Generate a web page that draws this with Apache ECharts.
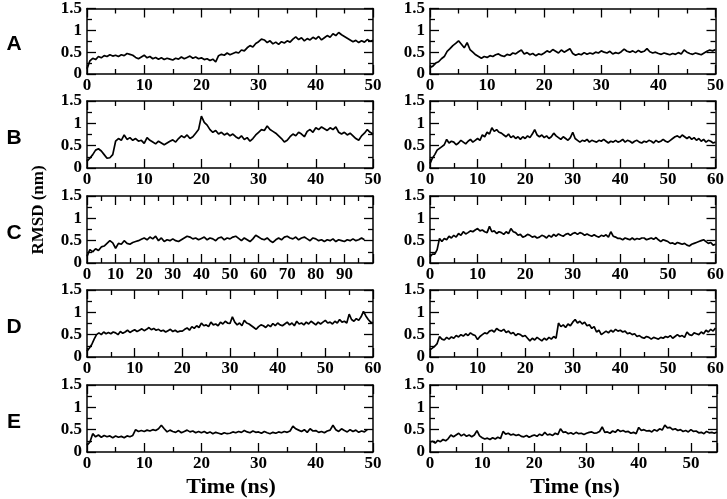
<!DOCTYPE html>
<html>
<head>
<meta charset="utf-8">
<script src="https://cdn.jsdelivr.net/npm/echarts@6/dist/echarts.min.js"></script>
<style>
  html, body { margin: 0; padding: 0; background: #fff; }
  #main { width: 727px; height: 499px; }
</style>
</head>
<body>
<div id="main"></div>
<script>
// RMSD (nm), one value every `step` ns
const rmsdA1 = [
  0.12, 0.30, 0.36, 0.33, 0.40, 0.37, 0.42, 0.40, 0.44, 0.41,
  0.43, 0.40, 0.44, 0.42, 0.47, 0.45, 0.43, 0.38, 0.35, 0.39,
  0.43, 0.37, 0.40, 0.35, 0.38, 0.34, 0.37, 0.33, 0.36, 0.34,
  0.32, 0.36, 0.34, 0.39, 0.35, 0.38, 0.41, 0.36, 0.39, 0.35,
  0.37, 0.33, 0.35, 0.31, 0.34, 0.28, 0.42, 0.45, 0.43, 0.48,
  0.44, 0.47, 0.50, 0.48, 0.55, 0.53, 0.60, 0.65, 0.62, 0.70,
  0.74, 0.80, 0.78, 0.72, 0.76, 0.69, 0.73, 0.68, 0.74, 0.71,
  0.76, 0.73, 0.80, 0.85, 0.79, 0.83, 0.76, 0.81, 0.78, 0.84,
  0.80, 0.86, 0.78, 0.83, 0.88, 0.84, 0.92, 0.88, 0.95, 0.90,
  0.86, 0.82, 0.78, 0.74, 0.77, 0.72, 0.76, 0.73, 0.79, 0.75, 0.77
];
const rmsdA2 = [
  0.15, 0.18, 0.25, 0.28, 0.35, 0.40, 0.52, 0.58, 0.65, 0.70,
  0.76, 0.68, 0.60, 0.72, 0.56, 0.50, 0.44, 0.40, 0.36, 0.40,
  0.38, 0.42, 0.40, 0.44, 0.46, 0.42, 0.40, 0.45, 0.43, 0.48,
  0.46, 0.51, 0.55, 0.46, 0.49, 0.44, 0.47, 0.42, 0.46, 0.44,
  0.48, 0.53, 0.50, 0.56, 0.52, 0.48, 0.55, 0.50, 0.54, 0.58,
  0.47, 0.43, 0.46, 0.44, 0.49, 0.45, 0.48, 0.46, 0.50, 0.48,
  0.53, 0.50, 0.48, 0.52, 0.46, 0.49, 0.47, 0.51, 0.57, 0.52,
  0.50, 0.53, 0.49, 0.54, 0.50, 0.52, 0.58, 0.51, 0.48, 0.50,
  0.47, 0.45, 0.48, 0.46, 0.44, 0.47, 0.45, 0.49, 0.46, 0.55,
  0.50, 0.47, 0.45, 0.48, 0.46, 0.44, 0.48, 0.52, 0.55, 0.53, 0.56
];
const rmsdB1 = [
  0.15, 0.22, 0.30, 0.40, 0.43, 0.38, 0.30, 0.22, 0.23, 0.30,
  0.60, 0.66, 0.62, 0.74, 0.64, 0.68, 0.62, 0.66, 0.60, 0.62,
  0.55, 0.68, 0.62, 0.58, 0.54, 0.60, 0.56, 0.52, 0.56, 0.60,
  0.63, 0.58, 0.66, 0.72, 0.68, 0.74, 0.66, 0.70, 0.78, 0.86,
  1.16, 1.02, 0.96, 0.86, 0.80, 0.84, 0.76, 0.80, 0.74, 0.78,
  0.72, 0.76, 0.70, 0.66, 0.72, 0.64, 0.68, 0.60, 0.66, 0.74,
  0.80, 0.86, 0.84, 0.94, 0.86, 0.82, 0.78, 0.72, 0.66, 0.58,
  0.62, 0.70, 0.76, 0.72, 0.80, 0.76, 0.70, 0.82, 0.86, 0.80,
  0.90, 0.86, 0.92, 0.88, 0.84, 0.90, 0.86, 0.92, 0.80, 0.76,
  0.80, 0.74, 0.78, 0.72, 0.66, 0.62, 0.72, 0.78, 0.86, 0.80, 0.76
];
const rmsdB2 = [
  0.10, 0.22, 0.30, 0.40, 0.44, 0.48, 0.52, 0.64, 0.56, 0.60,
  0.58, 0.52, 0.56, 0.62, 0.58, 0.54, 0.60, 0.64, 0.58, 0.62,
  0.66, 0.62, 0.74, 0.70, 0.80, 0.76, 0.90, 0.82, 0.86, 0.80,
  0.78, 0.74, 0.70, 0.76, 0.68, 0.72, 0.66, 0.70, 0.64, 0.70,
  0.66, 0.72, 0.68, 0.76, 0.86, 0.74, 0.70, 0.74, 0.68, 0.72,
  0.66, 0.70, 0.78, 0.72, 0.68, 0.64, 0.70, 0.66, 0.62, 0.68,
  0.80, 0.66, 0.62, 0.58, 0.62, 0.60, 0.64, 0.58, 0.62, 0.60,
  0.58, 0.62, 0.60, 0.64, 0.60, 0.56, 0.60, 0.58, 0.62, 0.58,
  0.60, 0.64, 0.58, 0.62, 0.60, 0.56, 0.60, 0.62, 0.58, 0.56,
  0.60, 0.58, 0.62, 0.60, 0.56, 0.62, 0.58, 0.60, 0.64, 0.60,
  0.58, 0.62, 0.66, 0.70, 0.72, 0.68, 0.74, 0.70, 0.66, 0.70,
  0.64, 0.68, 0.62, 0.66, 0.60, 0.64, 0.58, 0.62, 0.60, 0.56, 0.58
];
const rmsdC1 = [
  0.15, 0.30, 0.25, 0.32, 0.28, 0.36, 0.38, 0.44, 0.50, 0.45,
  0.33, 0.44, 0.42, 0.50, 0.44, 0.42, 0.46, 0.48, 0.50, 0.53,
  0.56, 0.52, 0.58, 0.54, 0.60, 0.50, 0.56, 0.48, 0.52, 0.50,
  0.54, 0.50, 0.48, 0.52, 0.56, 0.60, 0.58, 0.54, 0.56, 0.52,
  0.55, 0.58, 0.52, 0.56, 0.54, 0.50, 0.56, 0.58, 0.52, 0.56,
  0.54, 0.58, 0.60, 0.55, 0.50, 0.56, 0.52, 0.48, 0.54, 0.62,
  0.58, 0.54, 0.52, 0.56, 0.50, 0.46, 0.52, 0.56, 0.52, 0.58,
  0.60, 0.56, 0.54, 0.58, 0.52, 0.56, 0.58, 0.54, 0.50, 0.56,
  0.54, 0.50, 0.52, 0.48, 0.52, 0.50, 0.54, 0.48, 0.52, 0.50,
  0.48, 0.52, 0.50, 0.54, 0.50, 0.52, 0.56, 0.52
];
const rmsdC2 = [
  0.14, 0.20, 0.20, 0.30, 0.55, 0.48, 0.55, 0.52, 0.60, 0.56,
  0.62, 0.58, 0.66, 0.62, 0.70, 0.65, 0.68, 0.72, 0.70, 0.74,
  0.77, 0.72, 0.74, 0.70, 0.68, 0.82, 0.70, 0.72, 0.66, 0.70,
  0.68, 0.64, 0.70, 0.66, 0.77, 0.70, 0.68, 0.62, 0.64, 0.58,
  0.60, 0.64, 0.62, 0.58, 0.60, 0.56, 0.58, 0.62, 0.60, 0.56,
  0.62, 0.58, 0.64, 0.60, 0.65, 0.62, 0.60, 0.64, 0.66, 0.62,
  0.66, 0.68, 0.64, 0.68, 0.66, 0.62, 0.65, 0.62, 0.60, 0.63,
  0.60, 0.58, 0.62, 0.60, 0.63, 0.58, 0.70, 0.60, 0.58, 0.55,
  0.55, 0.52, 0.56, 0.54, 0.52, 0.56, 0.52, 0.55, 0.53, 0.56,
  0.56, 0.52, 0.54, 0.56, 0.53, 0.57, 0.52, 0.48, 0.52, 0.50,
  0.48, 0.44, 0.45, 0.42, 0.46, 0.44, 0.42, 0.44, 0.40, 0.38,
  0.42, 0.44, 0.46, 0.48, 0.50, 0.52, 0.48, 0.44, 0.46, 0.40, 0.42
];
const rmsdD1 = [
  0.13, 0.20, 0.28, 0.40, 0.50, 0.54, 0.50, 0.56, 0.52, 0.55,
  0.52, 0.56, 0.54, 0.50, 0.57, 0.53, 0.56, 0.60, 0.55, 0.58,
  0.61, 0.57, 0.60, 0.63, 0.59, 0.62, 0.66, 0.61, 0.64, 0.60,
  0.62, 0.58, 0.60, 0.56, 0.59, 0.62, 0.57, 0.60, 0.56, 0.58,
  0.58, 0.62, 0.65, 0.60, 0.68, 0.64, 0.70, 0.66, 0.76, 0.70,
  0.72, 0.68, 0.78, 0.72, 0.74, 0.70, 0.78, 0.74, 0.80, 0.76,
  0.75, 0.90, 0.78, 0.72, 0.76, 0.70, 0.82, 0.76, 0.74, 0.70,
  0.66, 0.62, 0.68, 0.72, 0.70, 0.66, 0.72, 0.68, 0.75, 0.70,
  0.76, 0.72, 0.70, 0.74, 0.78, 0.72, 0.76, 0.70, 0.80, 0.74,
  0.76, 0.72, 0.78, 0.74, 0.80, 0.76, 0.72, 0.78, 0.74, 0.78,
  0.82, 0.76, 0.78, 0.74, 0.80, 0.76, 0.84, 0.78, 0.80, 0.76,
  0.96, 0.84, 0.80, 0.86, 0.82, 0.90, 1.02, 0.92, 0.84, 0.78, 0.76
];
const rmsdD2 = [
  0.16, 0.20, 0.24, 0.30, 0.46, 0.40, 0.38, 0.44, 0.40, 0.45,
  0.42, 0.48, 0.45, 0.50, 0.47, 0.52, 0.48, 0.54, 0.50, 0.48,
  0.39, 0.46, 0.50, 0.54, 0.52, 0.58, 0.60, 0.56, 0.64, 0.60,
  0.58, 0.62, 0.55, 0.58, 0.52, 0.55, 0.48, 0.52, 0.50, 0.46,
  0.48, 0.42, 0.36, 0.42, 0.38, 0.44, 0.40, 0.36, 0.42, 0.38,
  0.44, 0.40, 0.46, 0.42, 0.76, 0.68, 0.72, 0.66, 0.74, 0.70,
  0.78, 0.84, 0.76, 0.80, 0.74, 0.78, 0.70, 0.72, 0.64, 0.68,
  0.56, 0.60, 0.50, 0.54, 0.58, 0.54, 0.60, 0.56, 0.62, 0.58,
  0.60, 0.56, 0.58, 0.52, 0.54, 0.50, 0.52, 0.46, 0.48, 0.44,
  0.42, 0.46, 0.44, 0.40, 0.44, 0.42, 0.40, 0.44, 0.42, 0.46,
  0.44, 0.48, 0.42, 0.46, 0.50, 0.46, 0.48, 0.44, 0.56, 0.50,
  0.48, 0.54, 0.52, 0.50, 0.56, 0.52, 0.60, 0.56, 0.62, 0.58, 0.65
];
const rmsdE1 = [
  0.15, 0.22, 0.41, 0.34, 0.38, 0.33, 0.37, 0.34, 0.36, 0.32,
  0.36, 0.33, 0.35, 0.32, 0.36, 0.34, 0.37, 0.50, 0.46, 0.48,
  0.46, 0.49, 0.47, 0.50, 0.48, 0.52, 0.60, 0.52, 0.45, 0.49,
  0.46, 0.44, 0.48, 0.43, 0.46, 0.49, 0.45, 0.47, 0.43, 0.46,
  0.43, 0.46, 0.42, 0.45, 0.41, 0.44, 0.42, 0.40, 0.43, 0.41,
  0.42, 0.45, 0.43, 0.46, 0.44, 0.48, 0.45, 0.43, 0.47, 0.44,
  0.45, 0.42, 0.46, 0.43, 0.41, 0.44, 0.42, 0.45, 0.43, 0.46,
  0.44, 0.47, 0.58, 0.52, 0.49, 0.46, 0.50, 0.44, 0.52, 0.47,
  0.48, 0.44, 0.46, 0.43, 0.47, 0.49, 0.60, 0.50, 0.46, 0.52,
  0.48, 0.45, 0.50, 0.46, 0.49, 0.44, 0.47, 0.45, 0.50
];
const rmsdE2 = [
  0.22, 0.24, 0.20, 0.26, 0.23, 0.28, 0.25, 0.30, 0.38, 0.34,
  0.38, 0.42, 0.36, 0.40, 0.35, 0.38, 0.34, 0.38, 0.48, 0.36,
  0.32, 0.29, 0.31, 0.28, 0.32, 0.29, 0.33, 0.30, 0.46, 0.40,
  0.42, 0.38, 0.40, 0.37, 0.39, 0.35, 0.34, 0.37, 0.33, 0.36,
  0.38, 0.35, 0.40, 0.37, 0.44, 0.38, 0.40, 0.37, 0.42, 0.39,
  0.52, 0.44, 0.45, 0.41, 0.43, 0.40, 0.44, 0.41, 0.42, 0.39,
  0.42, 0.44, 0.45, 0.42, 0.43, 0.46, 0.56, 0.44, 0.45, 0.42,
  0.47, 0.44, 0.50, 0.46, 0.48, 0.45, 0.46, 0.42, 0.44, 0.41,
  0.55, 0.48, 0.50, 0.47, 0.48, 0.45, 0.50, 0.47, 0.52, 0.49,
  0.60, 0.54, 0.55, 0.50, 0.52, 0.48, 0.50, 0.46, 0.48, 0.45,
  0.50, 0.46, 0.47, 0.43, 0.44, 0.41, 0.46, 0.43, 0.44, 0.42, 0.45
];

const rowLetters = ['A', 'B', 'C', 'D', 'E'];
const yTicks = { min: 0, max: 1.5, interval: 0.5 };
// [data, step(ns), x max, last x label] for left and right columns, row by row
const panels = [
  [rmsdA1, 0.5, 50, 50], [rmsdA2, 0.5, 50, 50],
  [rmsdB1, 0.5, 50, 50], [rmsdB2, 0.5, 60, 60],
  [rmsdC1, 1, 100, 90],  [rmsdC2, 0.5, 60, 60],
  [rmsdD1, 0.5, 60, 60], [rmsdD2, 0.5, 60, 60],
  [rmsdE1, 0.5, 50, 50], [rmsdE2, 0.5, 55, 50]
];

const rowTop = [7, 101, 196, 290, 385];
const serif = '"Liberation Serif", "DejaVu Serif", serif';
const black = '#000';

var myChart = echarts.init(document.getElementById('main'));

let grids = [], xAxes = [], yAxes = [], series = [];

panels.forEach(function (p, i) {
    let row = Math.floor(i / 2), col = i % 2;
    let data = p[0], step = p[1], xMax = p[2], lastLabel = p[3];
    grids.push({
        left: col ? 430 : 87,
        width: col ? 287 : 286,
        top: rowTop[row],
        height: 67
    });
    let line = { onZero: false, lineStyle: { color: black, width: 1.5 } };
    let tick = { inside: true, length: 9, lineStyle: { color: black, width: 1.3 } };
    let minor = { show: true, splitNumber: 2, length: 5, lineStyle: { color: black, width: 1.3 } };
    let xBase = {
        gridIndex: i, type: 'value', min: 0, max: xMax, interval: 10,
        axisLine: line, axisTick: tick, minorTick: minor, splitLine: { show: false }
    };
    xAxes.push(Object.assign({}, xBase, {
        position: 'bottom',
        axisLabel: {
            color: black, fontFamily: serif, fontWeight: 'bold', fontSize: 17, margin: 3,
            formatter: function (v) { return v > lastLabel ? '' : String(v); }
        }
    }));
    xAxes.push(Object.assign({}, xBase, { position: 'top', axisLabel: { show: false } }));
    let yBase = {
        gridIndex: i, type: 'value', min: yTicks.min, max: yTicks.max, interval: yTicks.interval,
        axisLine: line, axisTick: tick, minorTick: minor, splitLine: { show: false }
    };
    yAxes.push(Object.assign({}, yBase, {
        position: 'left',
        axisLabel: { color: black, fontFamily: serif, fontWeight: 'bold', fontSize: 17, margin: 5 }
    }));
    yAxes.push(Object.assign({}, yBase, { position: 'right', axisLabel: { show: false } }));

    series.push({
        type: 'line',
        xAxisIndex: 2 * i,
        yAxisIndex: 2 * i,
        data: data.map(function (v, k) { return [k * step, v]; }),
        showSymbol: false,
        lineStyle: { color: black, width: 1.7 },
        animation: false
    });
});

let texts = rowLetters.map(function (t, r) {
    return {
        type: 'text', x: 14, y: rowTop[r] + 37,
        style: {
            text: t, fill: black, align: 'center', verticalAlign: 'middle',
            font: 'bold 21px "Liberation Sans", Arial, sans-serif'
        }
    };
});
texts.push({
    type: 'text', x: 39, y: 210, rotation: Math.PI / 2,
    style: {
        text: 'RMSD (nm)', fill: black, align: 'center', verticalAlign: 'middle',
        font: 'bold 17px ' + serif
    }
});
[231, 575].forEach(function (cx) {
    texts.push({
        type: 'text', x: cx, y: 487,
        style: {
            text: 'Time (ns)', fill: black, align: 'center', verticalAlign: 'middle',
            font: 'bold 22px ' + serif
        }
    });
});

let option = {
    backgroundColor: '#fff',
    animation: false,
    grid: grids,
    xAxis: xAxes,
    yAxis: yAxes,
    series: series,
    graphic: texts
};

myChart.setOption(option);
</script>
</body>
</html>
